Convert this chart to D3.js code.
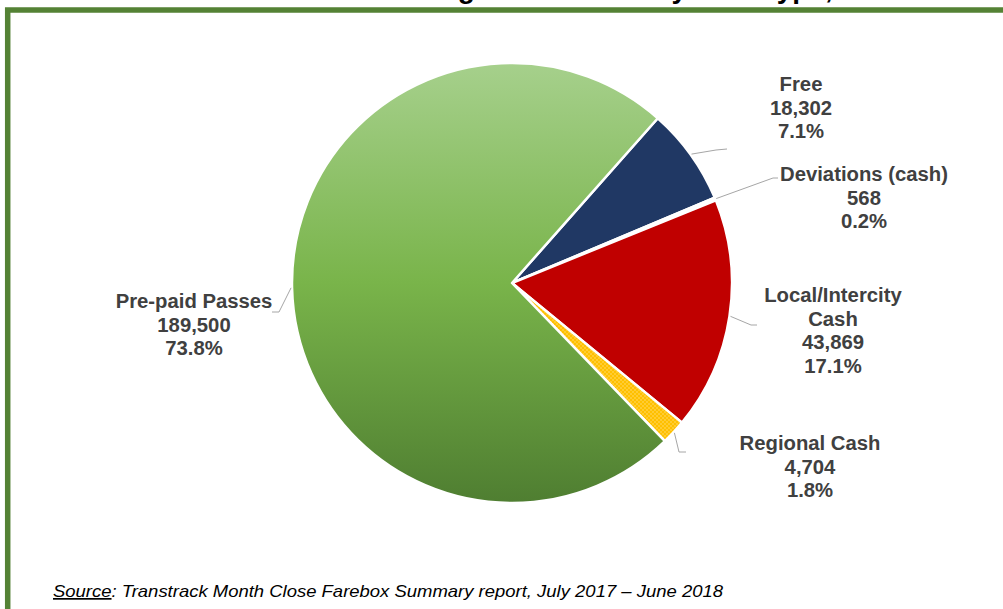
<!DOCTYPE html>
<html>
<head>
<meta charset="utf-8">
<script src="https://cdn.jsdelivr.net/npm/d3@7"></script>
<style>
  body { margin: 0; background: #fff; }
  svg { display: block; }
  text { font-family: "Liberation Sans", Arial, sans-serif; }
</style>
</head>
<body>
<svg width="1003" height="609"></svg>
<script>
// fare types, clockwise from the Free slice
var categories = ['Free', 'Deviations (cash)', 'Local/Intercity\nCash', 'Regional Cash', 'Pre-paid Passes'];
var boardings = [18302, 568, 43869, 4704, 189500];
var sliceColors = ['#203864', '#ffffff', '#c00000', 'url(#dots)', 'url(#greenFade)'];

var titleText = 'Annual Boardings - All Modes by Fare Type, FY 2017-18';
var sourceText = 'Transtrack Month Close Farebox Summary report, July 2017 \u2013 June 2018';

var svg = d3.select('svg'),
    cx = 512,
    cy = 283,
    radius = 220,
    labelColor = '#404040',
    leaderColor = '#a6a6a6',
    startDeg = 41.5;

// where each label sits, and the bend of its leader line
var labelLayout = {
  'Free': { x: 801, y: 91, leader: [[716, 150], [727, 149]] },
  'Deviations (cash)': { x: 864, y: 181, leader: [[773, 178], [778, 178]] },
  'Local/Intercity\nCash': { x: 833, y: 302, leader: [[751, 325], [757, 325]] },
  'Regional Cash': { x: 810, y: 450, leader: [[679, 452], [686, 452]] },
  'Pre-paid Passes': { x: 194, y: 308, leader: [[279, 312], [272, 312]] }
};

var defs = svg.append('defs');

// gradient lives in the pie group's coordinates (centre at 0,0)
var grad = defs.append('linearGradient')
  .attr('id', 'greenFade')
  .attr('gradientUnits', 'userSpaceOnUse')
  .attr('x1', 0).attr('y1', -radius)
  .attr('x2', 0).attr('y2', radius);
grad.append('stop').attr('offset', '0').attr('stop-color', '#a6d08c');
grad.append('stop').attr('offset', '0.5').attr('stop-color', '#79b44a');
grad.append('stop').attr('offset', '1').attr('stop-color', '#4f7e31');

var pat = defs.append('pattern')
  .attr('id', 'dots')
  .attr('patternUnits', 'userSpaceOnUse')
  .attr('width', 4).attr('height', 4);
pat.append('rect').attr('width', 4).attr('height', 4).attr('fill', '#ffc000');
pat.append('circle').attr('cx', 1).attr('cy', 1).attr('r', 0.7).attr('fill', '#ffe38a');
pat.append('circle').attr('cx', 3).attr('cy', 3).attr('r', 0.7).attr('fill', '#ffe38a');

// green frame, runs off the right and bottom edges
svg.append('rect')
  .attr('x', 7.7).attr('y', 10)
  .attr('width', 1100).attr('height', 700)
  .attr('fill', 'none')
  .attr('stroke', '#548235')
  .attr('stroke-width', 5.5);

// title sits above the frame, only its descenders show
var title = svg.append('text')
  .attr('x', 0)
  .attr('y', -2)
  .attr('font-size', 28)
  .attr('font-weight', 'bold')
  .attr('fill', '#000')
  .text(titleText);
var commaPos = title.node().getStartPositionOfChar(titleText.indexOf(','));
title.attr('x', 825 - commaPos.x);

var total = d3.sum(boardings);
var fmtCount = d3.format(','),
    fmtPct = d3.format('.1%');

var data = categories.map(function (c, i) {
  return { name: c, value: boardings[i], color: sliceColors[i] };
});

var a0 = startDeg * Math.PI / 180;
var pie = d3.pie()
  .sort(null)
  .value(function (d) { return d.value; })
  .startAngle(a0)
  .endAngle(a0 + 2 * Math.PI);

var arc = d3.arc().innerRadius(0).outerRadius(radius);

var arcs = pie(data);

var g = svg.append('g').attr('transform', 'translate(' + cx + ',' + cy + ')');

g.selectAll('path')
  .data(arcs)
  .enter()
  .append('path')
  .attr('d', arc)
  .attr('fill', function (d) { return d.data.color; })
  .attr('stroke', '#fff')
  .attr('stroke-width', 2.5)
  .attr('stroke-linejoin', 'round');

// leader lines from the rim to each label
var line = d3.line();
svg.append('g')
  .selectAll('path')
  .data(arcs)
  .enter()
  .append('path')
  .attr('d', function (d) {
    var mid = (d.startAngle + d.endAngle) / 2,
        r = radius + 1,
        start = [cx + r * Math.sin(mid), cy - r * Math.cos(mid)];
    return line([start].concat(labelLayout[d.data.name].leader));
  })
  .attr('fill', 'none')
  .attr('stroke', leaderColor)
  .attr('stroke-width', 1);

var labels = svg.append('g')
  .selectAll('text')
  .data(arcs)
  .enter()
  .append('text')
  .attr('text-anchor', 'middle')
  .attr('font-size', 20.3)
  .attr('font-weight', 'bold')
  .attr('fill', labelColor);

labels.each(function (d) {
  var pos = labelLayout[d.data.name],
      lines = d.data.name.split('\n');
  lines.push(fmtCount(d.data.value));
  lines.push(fmtPct(d.data.value / total));
  var t = d3.select(this);
  lines.forEach(function (s, i) {
    t.append('tspan')
      .attr('x', pos.x)
      .attr('y', pos.y + i * 23.6)
      .text(s);
  });
});

// source note
var src = svg.append('text')
  .attr('x', 53)
  .attr('y', 597)
  .attr('font-size', 17)
  .attr('font-style', 'italic')
  .attr('fill', '#000')
  .attr('textLength', 670)
  .attr('lengthAdjust', 'spacingAndGlyphs');
src.append('tspan').attr('text-decoration', 'underline').text('Source');
src.append('tspan').text(':  ' + sourceText);
</script>
</body>
</html>
